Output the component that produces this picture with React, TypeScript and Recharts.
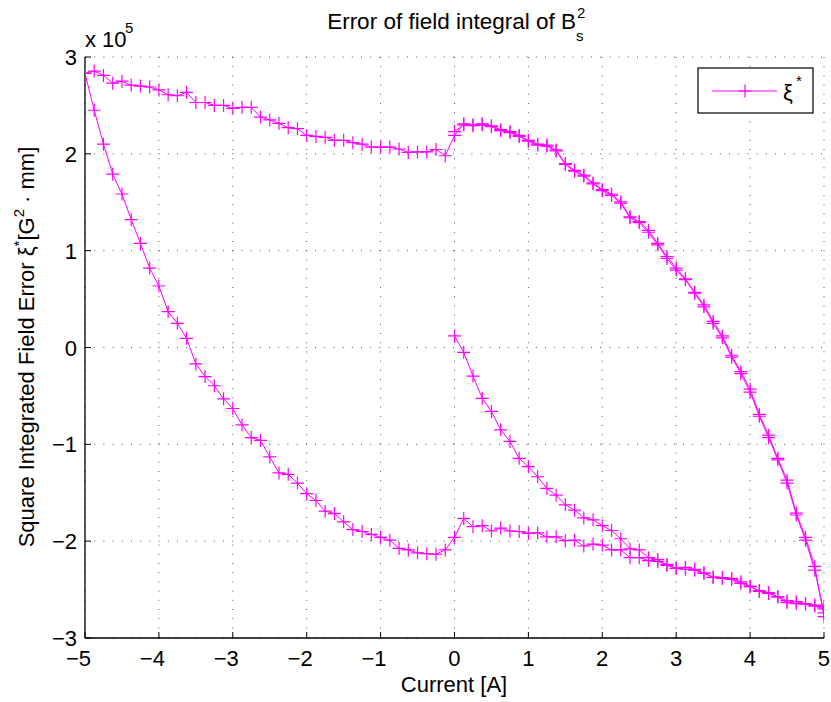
import React from 'react';
import { LineChart, Line, XAxis, YAxis, CartesianGrid } from 'recharts';

// Current set points (A), increasing order
const currentUp = [
  -5, -4.875, -4.75, -4.625, -4.5, -4.375, -4.25, -4.125,
  -4, -3.875, -3.75, -3.625, -3.5, -3.375, -3.25, -3.125,
  -3, -2.875, -2.75, -2.625, -2.5, -2.375, -2.25, -2.125,
  -2, -1.875, -1.75, -1.625, -1.5, -1.375, -1.25, -1.125,
  -1, -0.875, -0.75, -0.625, -0.5, -0.375, -0.25, -0.125,
  0, 0.125, 0.25, 0.375, 0.5, 0.625, 0.75, 0.875,
  1, 1.125, 1.25, 1.375, 1.5, 1.625, 1.75, 1.875,
  2, 2.125, 2.25, 2.375, 2.5, 2.625, 2.75, 2.875,
  3, 3.125, 3.25, 3.375, 3.5, 3.625, 3.75, 3.875,
  4, 4.125, 4.25, 4.375, 4.5, 4.625, 4.75, 4.875,
  5,
];
const currentDown = [...currentUp].reverse();

// Square integrated field error, in units of 1e5 G^2·mm
// virgin curve, 0 -> 5 A
const virginY = [
  0.12, -0.05, -0.295, -0.525, -0.66, -0.85, -0.97, -1.145,
  -1.23, -1.335, -1.455, -1.525, -1.625, -1.68, -1.76, -1.78,
  -1.84, -1.89, -1.975, -2.08, -2.09, -2.17, -2.19, -2.25,
  -2.28, -2.27, -2.29, -2.33, -2.37, -2.375, -2.385, -2.42,
  -2.465, -2.52, -2.54, -2.575, -2.635, -2.645, -2.65, -2.67,
  -2.70,
];
// descending sweep, 5 -> -5 A
const downY = [
  -2.78, -2.26, -1.96, -1.71, -1.37, -1.145, -0.905, -0.69,
  -0.43, -0.25, -0.08, 0.12, 0.27, 0.44, 0.57, 0.71,
  0.82, 0.94, 1.075, 1.21, 1.30, 1.35, 1.505, 1.585,
  1.63, 1.70, 1.78, 1.83, 1.90, 2.04, 2.09, 2.10,
  2.14, 2.19, 2.23, 2.25, 2.29, 2.31, 2.30, 2.31,
  2.19, 1.98, 2.045, 2.02, 2.02, 2.015, 2.05, 2.07,
  2.07, 2.07, 2.10, 2.115, 2.14, 2.14, 2.17, 2.18,
  2.19, 2.26, 2.27, 2.315, 2.35, 2.38, 2.48, 2.48,
  2.47, 2.50, 2.50, 2.53, 2.53, 2.635, 2.60, 2.61,
  2.66, 2.69, 2.70, 2.71, 2.75, 2.73, 2.81, 2.855,
  2.83,
];
// ascending sweep, -5 -> 5 A
const upY = [
  2.83, 2.45, 2.10, 1.79, 1.585, 1.32, 1.075, 0.82,
  0.635, 0.37, 0.25, 0.095, -0.17, -0.30, -0.395, -0.53,
  -0.63, -0.80, -0.93, -0.96, -1.13, -1.295, -1.31, -1.40,
  -1.51, -1.58, -1.69, -1.715, -1.80, -1.88, -1.90, -1.93,
  -1.96, -1.99, -2.075, -2.09, -2.12, -2.13, -2.135, -2.09,
  -1.96, -1.765, -1.85, -1.84, -1.895, -1.865, -1.895, -1.90,
  -1.92, -1.915, -1.955, -1.955, -1.995, -1.99, -2.05, -2.03,
  -2.04, -2.09, -2.09, -2.17, -2.17, -2.20, -2.21, -2.24,
  -2.28, -2.29, -2.30, -2.33, -2.375, -2.385, -2.395, -2.435,
  -2.47, -2.51, -2.53, -2.575, -2.615, -2.625, -2.645, -2.66,
  -2.68,
];
// return sweep, 5 -> 0 A
const returnY = [
  -2.74, -2.30, -1.99, -1.73, -1.40, -1.16, -0.93, -0.71,
  -0.46, -0.27, -0.10, 0.10, 0.25, 0.42, 0.56, 0.70,
  0.80, 0.92, 1.06, 1.19, 1.29, 1.34, 1.49, 1.57,
  1.62, 1.69, 1.77, 1.82, 1.89, 2.03, 2.08, 2.09,
  2.13, 2.18, 2.22, 2.24, 2.28, 2.30, 2.29, 2.30,
  2.23,
];

const xTicks = [-5, -4, -3, -2, -1, 0, 1, 2, 3, 4, 5];
const yTicks = [-3, -2, -1, 0, 1, 2, 3];

const toPoints = (xs: number[], ys: number[]) => ys.map((y, i) => ({ x: xs[i], y }));
const loopData = [
  ...toPoints(currentUp.slice(40), virginY),
  ...toPoints(currentDown, downY),
  ...toPoints(currentUp, upY),
  ...toPoints(currentDown, returnY),
];

const MAGENTA = '#ff00ff';
const FONT = '"Liberation Sans", Arial, Helvetica, sans-serif';
const FS = 22;

const fmt = (v: number) => (v < 0 ? `\u2212${-v}` : `${v}`);

const PlusDot = (props: any) => {
  const { cx, cy, index } = props;
  if (cx == null || cy == null) return <g key={`e${index}`} />;
  const r = 6.5;
  return (
    <path
      key={`p${index}`}
      d={`M${cx - r},${cy}H${cx + r}M${cx},${cy - r}V${cy + r}`}
      stroke={MAGENTA}
      strokeWidth={1.2}
      fill="none"
    />
  );
};

const BottomTick = (props: any) => {
  const { x, y, payload } = props;
  return (
    <g>
      <line x1={x} y1={y} x2={x} y2={y - 6} stroke="#000" strokeWidth={1} />
      <text x={x + 6} y={y + 28} textAnchor="end" fontSize={FS} fontFamily={FONT} fill="#000">
        {fmt(payload.value)}
      </text>
    </g>
  );
};

const LeftTick = (props: any) => {
  const { x, y, payload } = props;
  return (
    <g>
      <line x1={x} y1={y} x2={x + 6} y2={y} stroke="#000" strokeWidth={1} />
      <text x={x - 8} y={y + 8} textAnchor="end" fontSize={FS} fontFamily={FONT} fill="#000">
        {fmt(payload.value)}
      </text>
    </g>
  );
};

export default function App() {
  return (
    <div style={{ position: 'absolute', left: 0, top: 0, width: 831, height: 702, background: '#fff' }}>
      <LineChart
        width={831}
        height={702}
        data={loopData}
        margin={{ top: 57, right: 7, bottom: 34, left: 0 }}
      >
        <CartesianGrid stroke="#555" strokeDasharray="1 8.2" strokeWidth={1} />
        <XAxis
          dataKey="x"
          type="number"
          domain={[-5, 5]}
          ticks={xTicks}
          interval={0}
          height={30}
          tickSize={0}
          tickMargin={0}
          tickLine={false}
          tick={<BottomTick />}
          axisLine={{ stroke: '#000', strokeWidth: 1.3 }}
          allowDataOverflow
        />
        <XAxis
          xAxisId="top"
          orientation="top"
          type="number"
          domain={[-5, 5]}
          ticks={xTicks}
          interval={0}
          mirror
          height={0}
          tick={false}
          tickSize={6}
          tickLine={{ stroke: '#000' }}
          axisLine={{ stroke: '#000', strokeWidth: 1.3 }}
          allowDataOverflow
        />
        <YAxis
          type="number"
          domain={[-3, 3]}
          ticks={yTicks}
          interval={0}
          width={85}
          tickSize={0}
          tickMargin={0}
          tickLine={false}
          tick={<LeftTick />}
          axisLine={{ stroke: '#000', strokeWidth: 1.3 }}
          allowDataOverflow
        />
        <YAxis
          yAxisId="right"
          orientation="right"
          type="number"
          domain={[-3, 3]}
          ticks={yTicks}
          interval={0}
          mirror
          width={0}
          tick={false}
          tickSize={6}
          tickLine={{ stroke: '#000' }}
          axisLine={{ stroke: '#000', strokeWidth: 1.3 }}
          allowDataOverflow
        />
        <Line
          dataKey="y"
          type="linear"
          stroke={MAGENTA}
          strokeWidth={1}
          dot={PlusDot}
          activeDot={false}
          isAnimationActive={false}
        />
      </LineChart>
      <svg
        width={831}
        height={702}
        style={{ position: 'absolute', left: 0, top: 0, pointerEvents: 'none' }}
        fontFamily={FONT}
      >
        {/* title */}
        <text x={576} y={29} textAnchor="end" fontSize={22.5} fill="#000">
          Error of field integral of B
        </text>
        <text x={577} y={18} fontSize={15} fill="#000">2</text>
        <text x={576} y={41} fontSize={15} fill="#000">s</text>
        {/* exponent */}
        <text x={85} y={47} fontSize={FS} fill="#000">x 10</text>
        <text x={125} y={33} fontSize={15} fill="#000">5</text>
        {/* x label */}
        <text x={454} y={692} textAnchor="middle" fontSize={FS} fill="#000">Current [A]</text>
        {/* y label */}
        <text transform="translate(34,347) rotate(-90)" textAnchor="middle" fontSize={FS} fill="#000">
          Square Integrated Field Error ξ<tspan dy={-10} fontSize={15}>*</tspan>
          <tspan dy={10}>[G</tspan>
          <tspan dy={-10} fontSize={15}>2</tspan>
          <tspan dy={10}> · mm]</tspan>
        </text>
        {/* legend */}
        <rect x={698} y={68} width={115} height={45} fill="#fff" stroke="#000" strokeWidth={1.2} />
        <line x1={712} y1={91} x2={777} y2={91} stroke={MAGENTA} strokeWidth={1} />
        <path d="M738.5,91H751.5M745,84.5V97.5" stroke={MAGENTA} strokeWidth={1.2} />
        <text x={783} y={100} fontSize={FS} fill="#000">ξ</text>
        <text x={796} y={86} fontSize={15} fill="#000">*</text>
      </svg>
    </div>
  );
}
